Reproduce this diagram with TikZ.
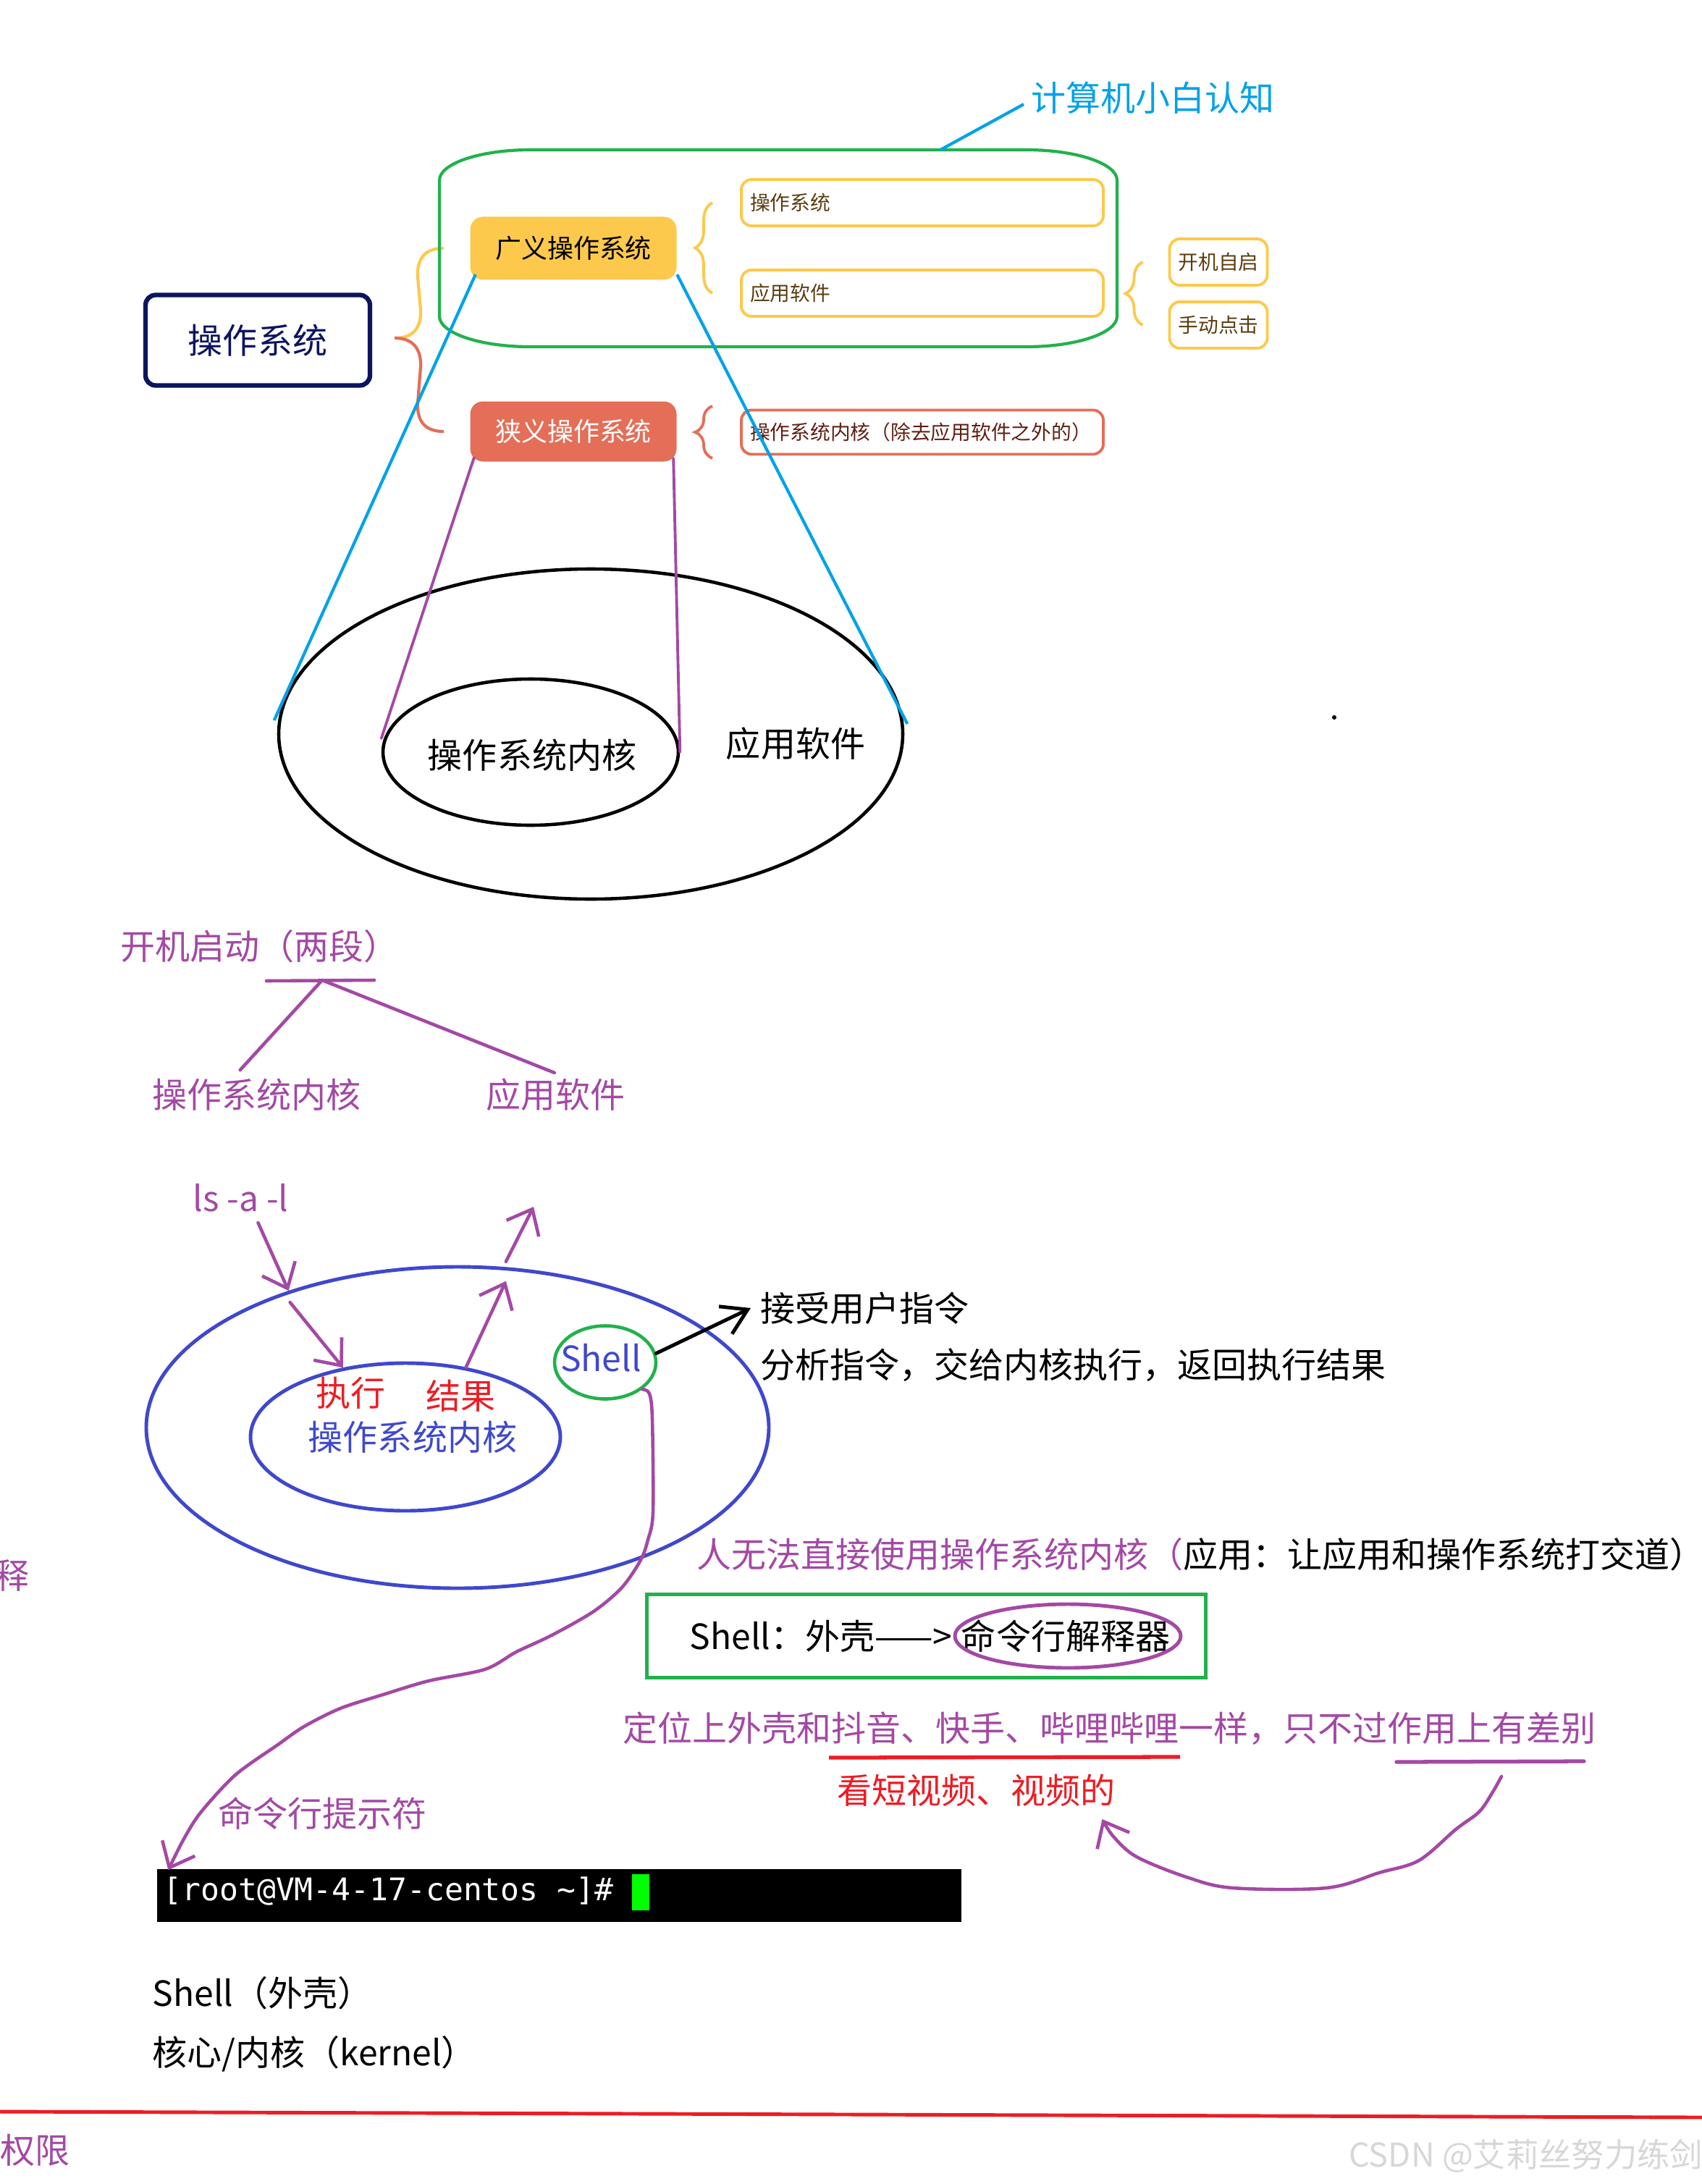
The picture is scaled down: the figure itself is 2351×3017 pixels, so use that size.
\documentclass[tikz,border=0pt]{standalone}
\usepackage{fontspec}
\setmainfont{Noto Sans CJK SC}
\newfontfamily\termfont{DejaVu Sans Mono}
\usetikzlibrary{arrows.meta,shapes.geometric,positioning,calc,decorations.pathreplacing}
\definecolor{paintpurple} {RGB}{163,73,164}
\definecolor{paintblue}   {RGB}{63,72,204}
\definecolor{paintgreen}  {RGB}{34,177,76}
\definecolor{paintred}    {RGB}{237,28,36}
\definecolor{paintsky}    {RGB}{0,162,232}
\definecolor{mapyellow}   {RGB}{252,201,76}
\definecolor{maporange}   {RGB}{228,110,88}
\definecolor{mapnavy}     {RGB}{12,20,96}
\definecolor{mapbrown}    {RGB}{92,60,16}
\definecolor{maprust}     {RGB}{96,32,18}
\definecolor{cursorgreen} {RGB}{0,255,0}
\definecolor{markgray}    {RGB}{215,215,215}
\newcommand\handsize{\fontsize{13.66pt}{16pt}\selectfont}
\newcommand\mapsize{\fontsize{10.24pt}{12pt}\selectfont}
\newcommand\leafsize{\fontsize{7.9pt}{9.5pt}\selectfont}
\newcommand\termsize{\fontsize{12.24pt}{14pt}\selectfont}
\newcommand\marksize{\fontsize{12.9pt}{15pt}\selectfont}

\begin{document}
\begin{tikzpicture}[
  x=0.1mm,y=-0.1mm,
  every node/.style={inner sep=0pt},
  txt/.style={font=\handsize,anchor=west},
  root/.style={draw=mapnavy,line width=1.8pt,rounded corners=4pt,fill=white,
               minimum width=3.1cm,minimum height=1.25cm,font=\handsize,text=mapnavy},
  branch/.style={rounded corners=5pt,minimum width=2.85cm,font=\mapsize},
  leaf/.style={draw=mapyellow,line width=1.1pt,fill=white,rounded corners=4pt,
               minimum height=0.64cm,font=\leafsize,text=mapbrown},
  wideleaf/.style={leaf,text width=4.76cm,inner xsep=0.12cm,align=left},
  tagleaf/.style={leaf,minimum width=1.35cm},
  brc/.style={decorate,decoration={brace,amplitude=2.4mm},line width=1.1pt},
  ring/.style={ellipse,draw,line width=1.3pt},
  sky/.style={paintsky,line width=1.2pt},
  hand/.style={paintpurple,line width=1.3pt,line cap=round,line join=round},
  harr/.style={hand,-{Straight Barb[length=3mm,width=5mm]}},
  barr/.style={black,line width=1.4pt,line cap=round,-{Straight Barb[length=3.4mm,width=4.2mm]}},
]
\useasboundingbox (0,0) rectangle (2351,3017);

%% ── Mind map: 操作系统 ──────────────────────────────────────────────────
\node[root] (os) at (356,470) {操作系统};
\node[branch,fill=mapyellow,minimum height=0.87cm] (broad) at (792,343) {广义操作系统};
\node[branch,fill=maporange,text=white,minimum height=0.83cm] (narrow) at (792,596) {狭义操作系统};

\node[wideleaf] (leafos)  at (1274,280) {操作系统};
\node[wideleaf] (leafapp) at (1274,405) {应用软件};
\node[wideleaf,draw=maporange,text=maprust,minimum height=0.61cm] (leafcore)
  at (1274,597) {操作系统内核（除去应用软件之外的）};
\node[tagleaf] (boot)  at (1683,362) {开机自启};
\node[tagleaf] (click) at (1683,449) {手动点击};

%% braces
\coordinate (cusp) at ($(os.east)+(31,-3)$);
\draw[mapyellow,line width=1.2pt] ($(broad.west)+(-36,0)$) .. controls +(-24,0) and +(0,-25) ..
  ($(broad.west)+(-72,37)$) -- ($(cusp)+(36,-37)$) .. controls +(0,25) and +(24,0) .. (cusp);
\draw[maporange,line width=1.2pt] (cusp) .. controls +(24,0) and +(0,-25) ..
  ($(cusp)+(36,38)$) -- ($(narrow.west)+(-72,-37)$) .. controls +(0,25) and +(-24,0) .. ($(narrow.west)+(-36,0)$);
\draw[brc,mapyellow] ($(leafapp.west)+(-38,0)$) -- ($(leafos.west)+(-38,0)$);
\draw[brc,maporange] ($(leafcore.west)+(-38,36)$) -- ($(leafcore.west)+(-38,-36)$);
\draw[brc,mapyellow] ($(click.west)+(-35,0)$) -- ($(boot.west)+(-35,0)$);

%% green frame round 广义
\draw[paintgreen,line width=1.2pt]
  (607,249) .. controls (607,226) and (663,207) .. (732,207) -- (1418,207)
  .. controls (1487,207) and (1543,226) .. (1543,249) -- (1543,437)
  .. controls (1543,460) and (1487,479) .. (1418,479) -- (732,479)
  .. controls (663,479) and (607,460) .. (607,437) -- cycle;
\coordinate (frametop) at (1299,207);
\node[txt,paintsky] (title) at (1424,135) {计算机小白认知};
\draw[sky] (frametop) -- ($(title.west)+(-10,9)$);

%% ── Kernel / application ellipses ───────────────────────────────────────
\node[ring,line width=1.3pt,minimum width=8.62cm,minimum height=4.56cm] (cosmos) at (816,1014) {};
\node[ring,line width=1.3pt,minimum width=4.08cm,minimum height=2.02cm] (kernel) at (733,1039) {};
\node[font=\handsize] (kerneltxt) at (735,1043) {操作系统内核};
\node[font=\handsize] (apptxt) at (1099,1027) {应用软件};
\fill (1843,991) circle[radius=3];

\draw[sky] ($(broad.south west)+(8,-8)$) -- ($(cosmos.west)+(-4,-19)$);
\draw[sky] ($(broad.south east)+(0,-8)$) -- ($(cosmos.east)+(4,-14)$);
\draw[hand,line width=1.1pt] ($(narrow.south west)+(6,-6)$) -- ($(kernel.west)+(0,-19)$);
\draw[hand,line width=1.1pt] ($(narrow.south east)+(-5,-5)$) -- (kernel.east);

%% ── 开机启动 ────────────────────────────────────────────────────────────
\node[txt,paintpurple] (boottitle) at (166,1307) {开机启动（两段）};
\coordinate (split) at (445,1354);
\draw[hand] ($(split)+(-77,1)$) -- ($(split)+(72,0)$);
\node[txt,paintpurple] (bootkern) at (210,1512) {操作系统内核};
\node[txt,paintpurple] (bootapp)  at (671,1512) {应用软件};
\draw[hand] (split) -- ($(bootkern.north)+(-23,-11)$);
\draw[hand] (split) -- ($(bootapp.north)+(-2,-7)$);

%% ── Shell ───────────────────────────────────────────────────────────────
\node[txt,paintpurple] (cmd) at (266,1655) {ls -a -l};
\node[ring,draw=paintblue,line width=1.4pt,minimum width=8.6cm,minimum height=4.44cm] (shellring) at (632,1972) {};
\node[ring,draw=paintblue,line width=1.4pt,minimum width=4.28cm,minimum height=2.04cm] (kernring) at (560,1985) {};
\node[txt,paintred] (exec)   at (436,1924) {执行};
\node[txt,paintred] (result) at (588,1928) {结果};
\node[font=\handsize,paintblue] (kerntxt) at (570,1985) {操作系统内核};
\node[ring,draw=paintgreen,minimum width=1.4cm,minimum height=1.01cm] (shell) at (836,1882) {};
\node[font=\handsize,paintblue] (shelltxt) at (830,1876) {Shell};
\coordinate (out) at (737,1667);

\draw[harr] ($(cmd.south)+(24,14)$) -- (shellring.141);
\draw[harr] ($(shellring.141)+(2,16)$) -- (kernring.132);
\draw[harr] (kernring.49) -- ($(shellring.72)+(-5,19)$);
\draw[harr] ($(shellring.72)+(-5,-8)$) -- (out);

\node[txt] (accept) at (1050,1807) {接受用户指令};
\node[txt] (parse)  at (1050,1886) {分析指令，交给内核执行，返回执行结果};
\draw[barr] (shell.10) -- ($(accept.west)+(-13,0)$);

\node[txt] (direct) at (962,2147)
  {\textcolor{paintpurple}{人无法直接使用操作系统内核（}应用：让应用和操作系统打交道）};

\node[draw=paintgreen,line width=1.4pt,minimum width=7.72cm,minimum height=1.15cm] (shellbox) at (1279.5,2260) {};
\node[txt] (shelldef) at (952,2260) {Shell：外壳——>};
\node[font=\handsize] (interp) at (1472,2260) {命令行解释器};
\node[ring,draw=paintpurple,line width=1.4pt,minimum width=3.12cm,minimum height=0.88cm] (interpring) at (1475,2260) {};

\node[txt,paintpurple] (position) at (860,2388)
  {定位上外壳和抖音、快手、哔哩哔哩一样，只不过作用上有差别};
\draw[paintred,line width=1.5pt] (1145,2428) -- (1630,2427);
\draw[hand,line width=1.5pt] (1929,2434) -- (2188,2433);
\node[txt,paintred] (shortvid) at (1156,2473) {看短视频、视频的};
\coordinate (diffmark) at (2074,2454);
\draw[harr] plot[smooth,tension=0.55] coordinates {(diffmark) (2061,2477) (2043,2503)
  (2011,2527) (1960,2570) (1905,2587) (1832,2608) (1703,2608) (1639,2593) (1570,2565)
  (1538,2537) ($(shortvid.south east)+(-19,17)$)};

%% ── Terminal ────────────────────────────────────────────────────────────
\node[txt,paintpurple] (prompthint) at (301,2505) {命令行提示符};
\node[fill=black,minimum width=11.11cm,minimum height=0.73cm] (term) at (772.5,2618.5) {};
\node[anchor=west,font=\termfont\termsize,text=white] (prompt) at (225,2612)
  {[root@VM-4-17-centos \textasciitilde]\#};
\node[fill=cursorgreen,minimum width=0.24cm,minimum height=0.5cm] (cursor) at (885,2614) {};
\draw[harr] plot[smooth,tension=0.5] coordinates {(shell.-36) (897,1925) (901,1960)
  (902,2089) (895,2127) (885,2155) (859,2193) (820,2226) (762,2259) (713,2282) (670,2306)
  (592,2322) (529,2341) (470,2360) (420,2385) (384,2410) (325,2452) (277,2504) (253,2542)
  ($(term.north west)+(16,2)$)};

\node[txt] (shellnote) at (210,2753) {Shell（外壳）};
\node[txt] (kernnote)  at (210,2837) {核心/内核（kernel）};

%% ── Footer ──────────────────────────────────────────────────────────────
\draw[paintred,line width=1.4pt] (0,2917) -- (2351,2925);
\node[txt,paintpurple] (perm) at (0,2970) {权限};
\node[txt,paintpurple] (cut)  at (-8,2176) {释};
\node[font=\marksize,text=markgray,anchor=east] (mark) at (2353,2978) {CSDN @艾莉丝努力练剑};
\end{tikzpicture}
\end{document}
